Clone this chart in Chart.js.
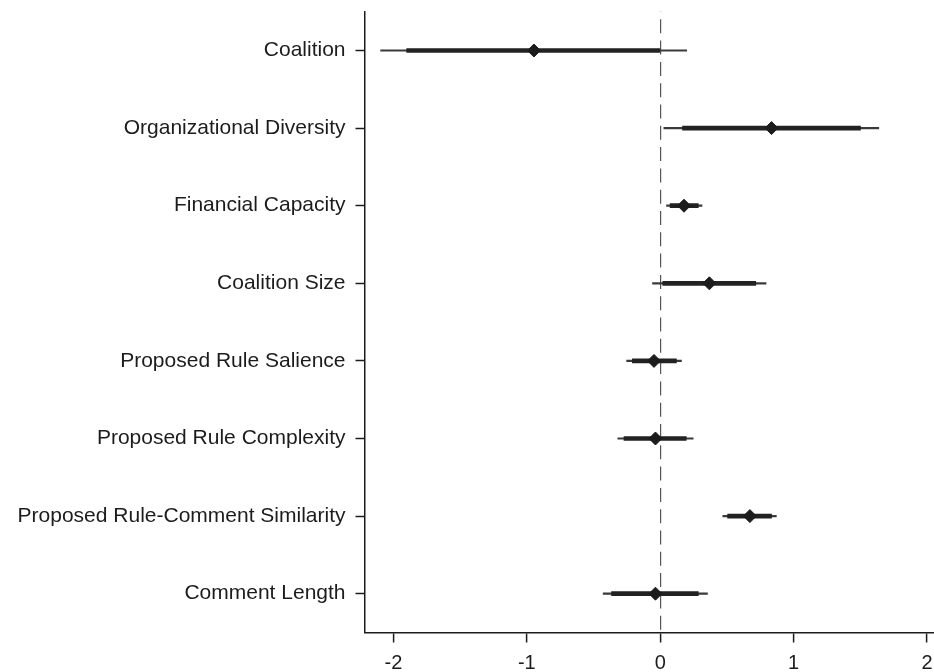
<!DOCTYPE html>
<html lang="en">
<head>
  <meta charset="UTF-8" />
  <title>Coefficient Plot</title>
  <style>
    body {
      margin: 0;
      background: #fff;
    }
    #wrap {
      width: 934px;
      height: 672px;
    }
  </style>
</head>
<body>
  <div id="wrap"><canvas id="chartCanvas" width="934" height="672"></canvas></div>

  <script src="https://cdn.jsdelivr.net/npm/chart.js"></script>
  <script>
    // variables, top to bottom
    const categories = [
      'Coalition',
      'Organizational Diversity',
      'Financial Capacity',
      'Coalition Size',
      'Proposed Rule Salience',
      'Proposed Rule Complexity',
      'Proposed Rule-Comment Similarity',
      'Comment Length'
    ];
    const estimates = [-0.947, 0.834, 0.178, 0.368, -0.047, -0.036, 0.672, -0.036];
    // thick interval
    const innerLow  = [-1.901, 0.167, 0.074, 0.019, -0.209, -0.272, 0.505, -0.365];
    const innerHigh = [0.000, 1.501, 0.285, 0.716, 0.121, 0.195, 0.834, 0.285];
    // thin interval
    const outerLow  = [-2.096, 0.027, 0.047, -0.058, -0.252, -0.318, 0.469, -0.428];
    const outerHigh = [0.198, 1.638, 0.313, 0.793, 0.159, 0.247, 0.870, 0.354];
    const xTicks = [-2, -1, 0, 1, 2];

    const ink = '#1c1c1c';

    const chart = new Chart(document.getElementById('chartCanvas'), {
      type: 'bar',
      data: {
        labels: categories,
        datasets: [
          {
            type: 'line',
            indexAxis: 'y',
            data: estimates,
            showLine: false,
            pointStyle: 'rectRot',
            pointRadius: 6.5,
            pointBackgroundColor: ink,
            pointBorderColor: ink,
            pointBorderWidth: 1
          },
          {
            data: categories.map((c, i) => [innerLow[i], innerHigh[i]]),
            backgroundColor: '#222',
            barThickness: 4,
            grouped: false,
            borderWidth: 0
          },
          {
            data: categories.map((c, i) => [outerLow[i], outerHigh[i]]),
            backgroundColor: '#3a3a3a',
            barThickness: 1.5,
            grouped: false,
            borderWidth: 0
          }
        ]
      },
      options: {
        indexAxis: 'y',
        responsive: false,
        animation: false,
        layout: {
          autoPadding: false,
          padding: { top: 11.7, left: 0, right: 0, bottom: 0 }
        },
        plugins: {
          legend: { display: false },
          tooltip: { enabled: false }
        },
        scales: {
          x: {
            type: 'linear',
            min: -2.217,
            max: 2.052,
            afterBuildTicks: (scale) => {
              scale.ticks = xTicks.map(v => ({ value: v }));
            },
            afterFit: (scale) => {
              scale.height = 39.5;
              scale.paddingLeft = 0;
              scale.paddingRight = 0;
            },
            border: { display: true, color: ink, width: 1.5, dash: [14, 7.3], dashOffset: 13.7 },
            grid: {
              color: (ctx) => (ctx.tick && ctx.tick.value === 0) ? '#555' : 'rgba(0,0,0,0)',
              lineWidth: 1.2,
              tickColor: ink,
              tickLength: 10,
              tickWidth: 1.5
            },
            ticks: {
              color: ink,
              padding: 9,
              maxRotation: 0,
              font: { family: 'Liberation Sans, Arial, sans-serif', size: 20 },
              callback: (v) => String(v)
            }
          },
          y: {
            type: 'category',
            offset: true,
            afterFit: (scale) => {
              scale.width = 364.5;
              scale.paddingTop = 0;
              scale.paddingBottom = 0;
            },
            border: { display: true, color: ink, width: 1.5 },
            grid: {
              offset: false,
              drawOnChartArea: false,
              tickColor: ink,
              tickLength: 9,
              tickWidth: 1.5
            },
            ticks: {
              color: ink,
              padding: 10,
              font: { family: 'Liberation Sans, Arial, sans-serif', size: 21 }
            }
          }
        }
      }
    });
  </script>
</body>
</html>
